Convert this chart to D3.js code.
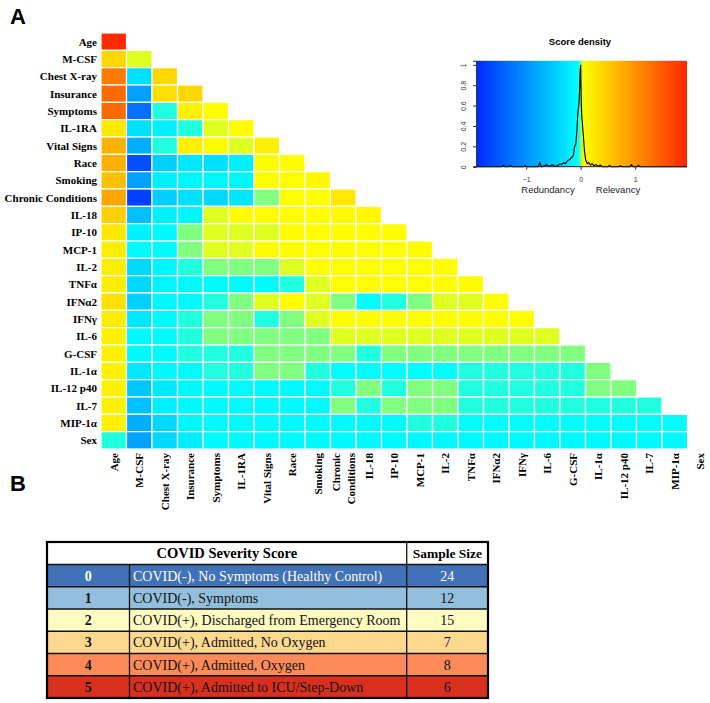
<!DOCTYPE html>
<html><head><meta charset="utf-8">
<script src="https://cdn.jsdelivr.net/npm/d3@7"></script>
<style>body{margin:0;background:#fff}svg{display:block}</style>
</head><body>
<svg id="c" width="710" height="703"></svg>
<script>
// ---------- DATA ----------
const variables = ["Age","M-CSF","Chest X-ray","Insurance","Symptoms","IL-1RA","Vital Signs","Race","Smoking","Chronic Conditions","IL-18","IP-10","MCP-1","IL-2","TNFα","IFNα2","IFNγ","IL-6","G-CSF","IL-1α","IL-12 p40","IL-7","MIP-1α","Sex"];

// lower-triangular score matrix (row i holds columns 0..i)
const scoreRows = [
  [1.91],
  [0.39, 0.03],
  [1.21, -0.31, 0.39],
  [1.35, -0.87, 0.31, 0.39],
  [1.35, -1.30, -0.03, 0.17, 0.06],
  [0.24, -0.31, -0.17, -0.03, 0.03, 0.06],
  [0.73, -0.73, -0.03, 0.17, 0.06, 0.03, 0.17],
  [0.73, -1.58, -0.45, -0.24, -0.31, -0.17, 0.06, 0.06],
  [0.59, -0.87, -0.17, -0.12, -0.12, -0.12, 0.06, 0.06, 0.10],
  [0.83, -1.72, -0.45, -0.31, -0.38, -0.24, 0.00, 0.06, 0.06, 0.24],
  [0.45, -0.59, -0.15, -0.12, 0.03, 0.06, 0.06, 0.06, 0.06, 0.08, 0.10],
  [0.24, -0.15, -0.10, 0.00, 0.03, 0.03, 0.03, 0.06, 0.06, 0.06, 0.06, 0.06],
  [0.20, -0.08, -0.08, 0.00, 0.03, 0.03, 0.06, 0.06, 0.06, 0.06, 0.06, 0.06, 0.06],
  [0.20, -0.38, -0.12, -0.03, 0.00, 0.00, 0.00, 0.03, 0.06, 0.06, 0.06, 0.06, 0.06, 0.06],
  [0.20, -0.38, -0.12, -0.08, -0.08, -0.08, -0.08, -0.03, 0.03, 0.06, 0.06, 0.06, 0.06, 0.06, 0.06],
  [0.31, -0.45, -0.10, -0.08, -0.03, 0.00, 0.03, 0.06, 0.03, 0.00, -0.06, -0.03, 0.00, 0.03, 0.03, 0.06],
  [0.20, -0.24, -0.10, -0.03, 0.00, 0.00, -0.03, 0.00, 0.03, 0.06, 0.06, 0.06, 0.06, 0.06, 0.06, 0.06, 0.06],
  [0.15, -0.10, -0.08, -0.03, 0.00, 0.00, 0.00, 0.00, 0.00, 0.03, 0.03, 0.03, 0.03, 0.03, 0.03, 0.03, 0.03, 0.03],
  [0.15, -0.10, -0.08, -0.03, -0.03, -0.03, 0.00, 0.00, 0.00, 0.00, -0.03, 0.00, 0.00, 0.00, 0.00, 0.00, 0.00, 0.00, 0.00],
  [0.15, -0.24, -0.10, -0.08, -0.03, -0.03, 0.00, 0.00, -0.03, -0.06, -0.06, -0.06, -0.06, -0.06, -0.03, -0.03, -0.03, -0.03, -0.03, 0.00],
  [0.15, -0.52, -0.24, -0.10, -0.08, -0.08, -0.08, -0.08, -0.08, -0.03, 0.00, -0.03, 0.00, 0.00, -0.03, -0.03, -0.03, -0.03, -0.03, 0.00, 0.00],
  [0.15, -0.59, -0.17, -0.10, -0.08, -0.08, -0.08, -0.08, -0.08, 0.00, -0.03, 0.00, 0.00, 0.00, -0.03, -0.03, -0.03, -0.03, -0.03, -0.03, -0.03, -0.03],
  [0.15, -0.73, -0.38, -0.10, -0.08, -0.08, -0.08, -0.08, -0.08, -0.08, -0.08, -0.08, -0.03, -0.03, -0.06, -0.06, -0.06, -0.06, -0.06, -0.06, -0.06, -0.06, -0.06],
  [-0.03, -0.87, -0.38, -0.20, -0.10, -0.10, -0.10, -0.10, -0.10, -0.10, -0.10, -0.10, -0.10, -0.10, -0.10, -0.10, -0.10, -0.10, -0.10, -0.10, -0.10, -0.10, -0.10]
];

// score density curve [score, density]
const densityPoints = [
  [-1.92,0],[-1.45,0],[-1.42,0.012],[-1.39,0],[-1.32,0],[-1.29,0.01],[-1.26,0],
  [-1.05,0],[-1.02,0.01],[-0.99,0],[-0.78,0],[-0.75,0.04],[-0.72,0],
  [-0.66,0.01],[-0.63,0.02],[-0.60,0.005],[-0.55,0.01],[-0.52,0.02],[-0.49,0.005],
  [-0.42,0.01],[-0.38,0.03],[-0.35,0.02],[-0.31,0.04],[-0.28,0.03],[-0.24,0.06],
  [-0.20,0.07],[-0.17,0.09],[-0.14,0.10],[-0.11,0.20],[-0.09,0.22],[-0.07,0.35],
  [-0.05,0.55],[-0.035,0.60],[-0.02,0.75],[-0.01,0.95],[0,1.0],[0.01,0.62],
  [0.02,0.50],[0.035,0.40],[0.05,0.30],[0.07,0.15],[0.09,0.07],[0.12,0.03],
  [0.15,0.04],[0.18,0.015],[0.21,0.03],[0.24,0.01],[0.28,0.02],[0.32,0.005],
  [0.36,0.015],[0.40,0],[0.50,0],[0.53,0.012],[0.56,0],[0.70,0],[0.73,0.01],
  [0.76,0],[0.90,0],[0.93,0.02],[0.96,0],[1.03,0],[1.06,0.012],[1.09,0],[1.95,0]
];
const densityXTicks = [-1, 0, 1];
const densityYTicks = [0, 0.2, 0.4, 0.6, 0.8, 1];
const densityLabels = ["Redundancy", "Relevancy"];

const severityScores = ["0","1","2","3","4","5"];
const severityLabels = [
  "COVID(-), No Symptoms (Healthy Control)",
  "COVID(-), Symptoms",
  "COVID(+), Discharged from Emergency Room",
  "COVID(+), Admitted, No Oxygen",
  "COVID(+), Admitted, Oxygen",
  "COVID(+), Admitted to ICU/Step-Down"
];
const sampleSizes = [24, 12, 15, 7, 8, 6];
const severityColors = ["#4171b6", "#93bfdd", "#fffbc1", "#fdd98f", "#fc8b59", "#d8301f"];
const severityTextColors = ["#ffffff", "#111", "#111", "#111", "#111", "#111"];

// ---------- DRAW ----------
const svg = d3.select("#c");
const serif = "'Liberation Serif','Times New Roman',serif";
const sans = "'Liberation Sans',Arial,sans-serif";

const color = d3.scaleLinear()
  .domain([-2, -0.04, 0.04, 2])
  .range(["#0020ff", "#00ffff", "#ffff00", "#ff2000"])
  .interpolate(d3.interpolateRgb).clamp(true);

// panel letters
svg.append("text").attr("x", 10).attr("y", 24).text("A")
  .attr("font-family", sans).attr("font-weight", "bold").attr("font-size", 22);
svg.append("text").attr("x", 10).attr("y", 491).text("B")
  .attr("font-family", sans).attr("font-weight", "bold").attr("font-size", 22);

// heatmap
const cw = 25.5, ch = 17.333;
const x = d3.scaleBand().domain(variables).range([101, 101 + cw * variables.length]);
const y = d3.scaleBand().domain(variables).range([33, 33 + ch * variables.length]);

const cells = [];
scoreRows.forEach((row, i) => row.forEach((v, j) => cells.push({r: variables[i], c: variables[j], v})));

svg.append("g").selectAll("rect").data(cells).join("rect")
  .attr("x", d => x(d.c)).attr("y", d => y(d.r))
  .attr("width", x.bandwidth()).attr("height", y.bandwidth())
  .attr("fill", d => color(d.v))
  .attr("stroke", "#fff").attr("stroke-width", 1.2);

// row labels
svg.append("g").selectAll("text").data(variables).join("text")
  .attr("x", 97).attr("y", d => y(d) + y.bandwidth() / 2)
  .attr("dy", "0.35em").attr("text-anchor", "end")
  .attr("font-family", serif).attr("font-weight", "bold").attr("font-size", 11)
  .text(d => d);

// column labels (rotated)
const colG = svg.append("g").selectAll("g").data(variables).join("g")
  .attr("transform", d => `translate(${x(d) + x.bandwidth() / 2},453) rotate(-90)`);
colG.each(function(d) {
  const g = d3.select(this);
  const parts = d === "Chronic Conditions" ? ["Chronic", "Conditions"] : [d];
  parts.forEach((p, k) => {
    g.append("text")
      .attr("x", 0).attr("y", parts.length === 1 ? 0 : (k === 0 ? -7.5 : 7.5))
      .attr("dy", "0.35em").attr("text-anchor", "end")
      .attr("font-family", serif).attr("font-weight", "bold").attr("font-size", 11)
      .text(p);
  });
});

// ---------- density inset ----------
const dx = d3.scaleLinear().domain([-1.92, 1.95]).range([476, 687]);
const dy = d3.scaleLinear().domain([0, 1.04]).range([166.7, 60.8]);

const defs = svg.append("defs");
const grad = defs.append("linearGradient").attr("id", "dgrad")
  .attr("x1", "0%").attr("x2", "100%").attr("y1", "0%").attr("y2", "0%");
const gStops = d3.range(0, 101).map(k => -1.92 + (1.95 + 1.92) * k / 100);
grad.selectAll("stop").data(gStops).join("stop")
  .attr("offset", (d, k) => k + "%").attr("stop-color", d => color(d));

svg.append("rect").attr("x", dx.range()[0]).attr("y", dy.range()[1])
  .attr("width", dx.range()[1] - dx.range()[0]).attr("height", dy.range()[0] - dy.range()[1])
  .attr("fill", "url(#dgrad)");

svg.append("path").datum(densityPoints)
  .attr("d", d3.line().x(d => dx(d[0])).y(d => dy(d[1])))
  .attr("fill", "none").attr("stroke", "#000").attr("stroke-width", 1.1);

// axes
const xAxisG = svg.append("g").attr("transform", `translate(0,${dy(0)})`)
  .call(d3.axisBottom(dx).tickValues(densityXTicks).tickSize(3).tickFormat(d3.format("d")));
xAxisG.select(".domain").attr("d", `M${dx.range()[0] - 2},0H${dx.range()[1]}`).attr("stroke", "#222");
xAxisG.selectAll(".tick line").attr("stroke", "#333");
xAxisG.selectAll(".tick text").attr("font-family", sans).attr("font-size", 7).attr("fill", "#333").attr("y", 10);

const yAxisG = svg.append("g").attr("transform", `translate(${dx.range()[0]},0)`)
  .call(d3.axisLeft(dy).tickValues(densityYTicks).tickSize(3).tickFormat(d => d3.format("~g")(d)));
yAxisG.select(".domain").attr("stroke", "#333");
yAxisG.selectAll(".tick line").attr("stroke", "#333");
yAxisG.selectAll(".tick text").attr("font-family", sans).attr("font-size", 7).attr("fill", "#333")
  .attr("x", null).attr("dy", null)
  .attr("transform", "translate(-13,0) rotate(-90)").attr("text-anchor", "middle").attr("dominant-baseline", "central");

svg.append("text").attr("x", 580).attr("y", 45).attr("text-anchor", "middle")
  .attr("font-family", sans).attr("font-weight", "bold").attr("font-size", 9.5).text("Score density");
svg.append("text").attr("x", 548).attr("y", 193).attr("text-anchor", "middle")
  .attr("font-family", sans).attr("font-size", 9.5).attr("fill", "#222").text(densityLabels[0]);
svg.append("text").attr("x", 618).attr("y", 193).attr("text-anchor", "middle")
  .attr("font-family", sans).attr("font-size", 9.5).attr("fill", "#222").text(densityLabels[1]);

// ---------- table B ----------
const tx = [47, 129.5, 406.7, 488];
const headTop = 542, headBot = 564.5, tBot = 698;
const ty = d3.scaleBand().domain(severityScores).range([headBot, tBot]);

const tg = svg.append("g");
tg.append("rect").attr("x", tx[0]).attr("y", headTop).attr("width", tx[3] - tx[0]).attr("height", headBot - headTop).attr("fill", "#fff");
const rows = tg.selectAll("g.row").data(severityScores).join("g").attr("class", "row");
rows.append("rect").attr("x", tx[0]).attr("y", d => ty(d)).attr("width", tx[3] - tx[0]).attr("height", ty.bandwidth())
  .attr("fill", (d, i) => severityColors[i]);
rows.append("text").attr("x", (tx[0] + tx[1]) / 2).attr("y", d => ty(d) + ty.bandwidth() / 2).attr("dy", "0.35em")
  .attr("text-anchor", "middle").attr("font-family", serif).attr("font-weight", "bold").attr("font-size", 14)
  .attr("fill", (d, i) => severityTextColors[i]).text(d => d);
rows.append("text").attr("x", tx[1] + 3.5).attr("y", d => ty(d) + ty.bandwidth() / 2).attr("dy", "0.35em")
  .attr("font-family", serif).attr("font-size", 14)
  .attr("fill", (d, i) => severityTextColors[i]).text((d, i) => severityLabels[i]);
rows.append("text").attr("x", (tx[2] + tx[3]) / 2).attr("y", d => ty(d) + ty.bandwidth() / 2).attr("dy", "0.35em")
  .attr("text-anchor", "middle").attr("font-family", serif).attr("font-size", 14)
  .attr("fill", (d, i) => severityTextColors[i]).text((d, i) => sampleSizes[i]);

// grid lines
severityScores.forEach(d => {
  tg.append("line").attr("x1", tx[0]).attr("x2", tx[3]).attr("y1", ty(d)).attr("y2", ty(d))
    .attr("stroke", "#111").attr("stroke-width", 1.3);
});
tg.append("line").attr("x1", tx[1]).attr("x2", tx[1]).attr("y1", headBot).attr("y2", tBot).attr("stroke", "#111").attr("stroke-width", 1.3);
tg.append("line").attr("x1", tx[2]).attr("x2", tx[2]).attr("y1", headTop).attr("y2", tBot).attr("stroke", "#111").attr("stroke-width", 1.3);
tg.append("rect").attr("x", tx[0]).attr("y", headTop).attr("width", tx[3] - tx[0]).attr("height", tBot - headTop)
  .attr("fill", "none").attr("stroke", "#000").attr("stroke-width", 2.2);

tg.append("text").attr("x", (tx[0] + tx[2]) / 2).attr("y", (headTop + headBot) / 2).attr("dy", "0.35em")
  .attr("text-anchor", "middle").attr("font-family", serif).attr("font-weight", "bold").attr("font-size", 14.5)
  .text("COVID Severity Score");
tg.append("text").attr("x", (tx[2] + tx[3]) / 2).attr("y", (headTop + headBot) / 2).attr("dy", "0.35em")
  .attr("text-anchor", "middle").attr("font-family", serif).attr("font-weight", "bold").attr("font-size", 13.5)
  .text("Sample Size");
</script>
</body></html>
